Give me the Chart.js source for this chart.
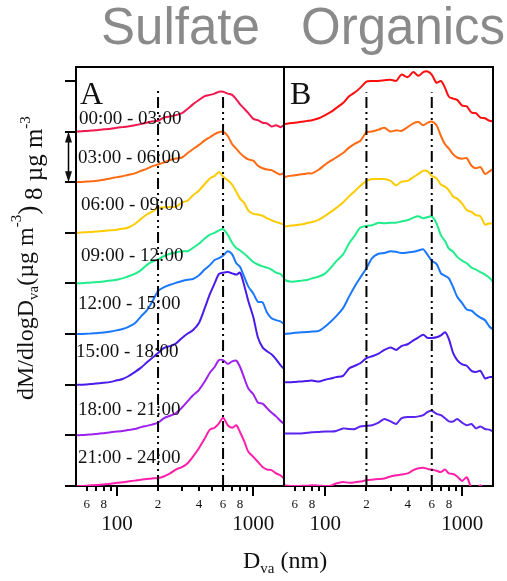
<!DOCTYPE html>
<html>
<head>
<meta charset="utf-8">
<script src="https://cdn.jsdelivr.net/npm/chart.js@4.4.0/dist/chart.umd.min.js"></script>
<style>
  html, body { margin: 0; padding: 0; background: #fff; }
  #quadro { position: relative; width: 507px; height: 581px; }
  #quadro canvas { position: absolute; left: 0; top: 0; }
</style>
</head>
<body>
<div id="quadro">
  <canvas id="graficoSulfato" width="507" height="581"></canvas>
  <canvas id="graficoOrganicos" width="507" height="581"></canvas>
</div>
<script>
// diâmetros (nm) onde as curvas foram lidas
const diametros = [50, 55, 60, 65, 70, 75, 80, 90, 100, 110, 120, 135, 150, 165, 180, 200, 220, 245, 270, 300, 330, 360, 400, 440, 480, 520, 560, 600, 650, 700, 750, 800, 860, 920, 1000, 1080, 1170, 1260, 1360, 1470, 1580, 1680];

const periodos = ['00:00 - 03:00', '03:00 - 06:00', '06:00 - 09:00', '09:00 - 12:00',
                  '12:00 - 15:00', '15:00 - 18:00', '18:00 - 21:00', '21:00 - 24:00'];

// marcas do eixo x (log) e seus rótulos
const marcasX = [60, 70, 80, 90, 100, 200, 300, 400, 500, 600, 700, 800, 900, 1000];
const rotulosX = ['6', '', '8', '', '100', '2', '', '4', '', '6', '', '8', '', '1000'];
const marcasMaiores = [100, 1000];
const marcasY = [0, 8, 16, 24, 32, 40, 48, 56, 64];

const deslocamento = 8;          // µg m-3 entre uma curva e a seguinte
const linhasReferencia = [200, 600];

// Sulfato - dM/dlogDva (µg m-3), sem deslocamento
const sulfato0003 = [0, 0.05, 0.1, 0.15, 0.2, 0.3, 0.35, 0.45, 0.6, 0.7, 0.8, 1.0, 1.2, 1.4, 1.6, 1.7, 2.2, 2.4, 2.6, 2.9, 3.6, 4.3, 5.0, 5.6, 5.8, 6.0, 6.3, 6.3, 6.0, 5.8, 5.1, 4.3, 3.6, 2.9, 2.0, 1.8, 1.4, 1.3, 0.8, 1.0, 0.7, 1.0];
const sulfato0306 = [0, 0.05, 0.1, 0.15, 0.2, 0.3, 0.4, 0.6, 0.8, 0.95, 1.15, 1.4, 1.8, 2.1, 2.5, 2.8, 3.1, 3.5, 3.75, 3.9, 4.6, 5.2, 5.9, 6.6, 7.1, 7.6, 7.9, 8.0, 7.3, 6.0, 5.3, 4.6, 4.0, 3.6, 3.4, 2.6, 2.2, 2.0, 1.9, 1.5, 1.2, 1.5];
const sulfato0609 = [0, 0.05, 0.1, 0.15, 0.2, 0.25, 0.3, 0.4, 0.5, 0.65, 0.8, 1.4, 2.2, 2.9, 3.3, 3.9, 4.0, 4.1, 4.1, 4.8, 5.1, 5.9, 6.7, 7.7, 8.6, 9.0, 9.6, 8.9, 8.3, 7.6, 6.5, 5.4, 4.7, 3.5, 3.0, 2.9, 2.7, 2.3, 2.0, 1.7, 1.5, 1.3];
const sulfato0912 = [0, 0.05, 0.1, 0.15, 0.2, 0.25, 0.3, 0.45, 0.6, 0.8, 1.1, 1.5, 2.1, 2.9, 3.4, 3.8, 4.3, 4.7, 4.9, 5.1, 5.1, 5.6, 6.3, 7.1, 7.7, 8.0, 8.4, 8.6, 7.7, 6.4, 5.6, 5.2, 4.7, 4.1, 3.4, 3.0, 2.7, 2.5, 2.2, 1.7, 1.5, 0.9];
const sulfato1215 = [0, 0, 0.05, 0.1, 0.15, 0.2, 0.25, 0.4, 0.6, 0.8, 1.1, 1.7, 2.8, 3.7, 5.0, 6.8, 7.4, 7.8, 8.1, 8.4, 8.6, 8.7, 9.3, 10.2, 10.9, 11.7, 12.0, 12.4, 13.1, 12.6, 11.2, 10.6, 9.0, 7.5, 6.4, 5.1, 5.0, 3.4, 2.5, 2.2, 2.0, 1.6];
const sulfato1518 = [0, 0, 0.05, 0.1, 0.2, 0.25, 0.3, 0.45, 0.7, 0.9, 1.3, 2.0, 2.7, 3.5, 4.2, 5.0, 5.8, 6.1, 6.5, 7.4, 8.1, 8.6, 9.8, 12.1, 14.3, 16.0, 17.5, 17.7, 17.8, 17.6, 17.4, 17.7, 15.6, 13.2, 10.7, 7.5, 5.9, 5.3, 4.8, 4.0, 3.1, 2.5];
const sulfato1821 = [0, 0.05, 0.1, 0.15, 0.2, 0.3, 0.35, 0.5, 0.6, 0.7, 0.85, 1.0, 1.3, 1.5, 1.7, 2.0, 2.7, 3.1, 3.5, 4.4, 5.4, 6.3, 7.2, 8.5, 9.9, 10.8, 11.9, 11.9, 11.3, 11.7, 11.8, 10.8, 9.0, 7.4, 6.5, 5.2, 5.0, 4.3, 3.6, 3.0, 2.3, 1.8];
const sulfato2124 = [0, 0, 0.05, 0.1, 0.15, 0.2, 0.25, 0.35, 0.5, 0.6, 0.7, 0.85, 1.0, 1.1, 1.2, 1.25, 1.5, 2.0, 2.6, 3.0, 3.6, 4.6, 6.0, 7.5, 8.9, 9.2, 9.9, 10.8, 9.6, 9.2, 9.6, 8.5, 7.0, 5.4, 4.6, 3.8, 3.0, 2.6, 2.5, 2.0, 1.7, 1.2];

// Orgânicos - dM/dlogDva (µg m-3), sem deslocamento
const organicos0003 = [1.2, 1.3, 1.4, 1.5, 1.6, 1.7, 1.8, 2.1, 2.6, 3.1, 3.7, 4.5, 5.6, 6.2, 6.9, 7.9, 8.0, 8.0, 8.1, 8.2, 8.0, 9.0, 8.6, 9.4, 8.8, 9.4, 9.5, 9.0, 7.7, 8.0, 6.9, 5.5, 5.2, 5.0, 4.1, 4.0, 3.0, 2.9, 2.2, 2.1, 1.7, 1.6];
const organicos0306 = [0.8, 1.0, 1.1, 1.2, 1.3, 1.4, 1.4, 2.0, 2.8, 3.4, 3.9, 4.6, 5.5, 6.1, 6.5, 7.9, 8.0, 8.3, 8.6, 8.0, 8.2, 8.1, 8.7, 9.3, 9.5, 9.0, 9.4, 9.6, 9.0, 7.3, 6.0, 5.3, 4.4, 3.9, 3.7, 3.8, 2.6, 2.2, 2.4, 1.3, 1.7, 2.1];
const organicos0609 = [1.0, 1.1, 1.2, 1.3, 1.4, 1.6, 1.7, 2.1, 2.7, 3.3, 3.9, 4.8, 5.8, 6.6, 7.4, 8.2, 8.5, 8.5, 8.5, 8.2, 7.5, 8.1, 8.2, 8.8, 9.3, 9.8, 9.7, 9.0, 8.6, 7.6, 7.3, 6.7, 5.7, 5.4, 4.6, 3.6, 3.3, 2.8, 2.6, 1.3, 1.5, 1.4];
const organicos0912 = [0.6, 0.3, 0.3, 0.4, 0.5, 0.6, 0.8, 1.1, 1.6, 2.5, 3.5, 4.6, 6.4, 7.6, 8.8, 9.1, 9.2, 9.6, 9.5, 9.6, 9.6, 9.8, 10.0, 10.4, 10.6, 10.3, 10.5, 10.6, 9.5, 7.6, 6.7, 5.5, 5.0, 4.2, 3.6, 3.2, 2.5, 2.2, 1.8, 1.4, 0.9, 0.3];
const organicos1215 = [0, 0.1, 0.2, 0.25, 0.3, 0.35, 0.4, 0.5, 1.2, 2.0, 2.8, 4.1, 6.0, 7.6, 8.9, 10.4, 12.0, 12.7, 12.8, 13.1, 13.0, 12.8, 12.9, 13.0, 13.2, 13.4, 12.5, 11.6, 11.1, 9.6, 9.2, 8.8, 7.4, 5.9, 4.9, 3.9, 3.7, 3.1, 2.6, 2.2, 1.2, 0.7];
const organicos1518 = [0.4, 0.4, 0.45, 0.5, 0.55, 0.6, 0.65, 0.5, 0.8, 1.0, 1.2, 1.4, 2.6, 3.0, 3.4, 4.2, 4.5, 4.9, 5.5, 5.9, 5.5, 6.1, 6.4, 7.0, 7.5, 7.9, 7.4, 7.4, 7.5, 7.8, 8.3, 7.2, 5.0, 3.9, 3.2, 3.0, 2.2, 2.0, 2.2, 1.0, 1.2, 1.2];
const organicos1821 = [0.3, 0.3, 0.3, 0.3, 0.35, 0.4, 0.5, 0.55, 0.6, 0.6, 0.7, 1.1, 1.0, 1.0, 1.4, 1.5, 1.6, 2.0, 2.6, 2.2, 1.8, 2.7, 2.9, 2.9, 3.0, 3.2, 3.7, 3.9, 3.4, 3.2, 2.7, 2.2, 2.2, 2.6, 2.0, 1.6, 1.8, 1.1, 1.4, 1.0, 0.9, 0.6];
const organicos2124 = [0.1, 0, 0, 0, 0.05, 0.05, 0.1, 0.05, 0, 0.05, 0.4, 0.65, 0.5, 0.6, 0.7, 0.9, 1.0, 1.1, 1.2, 1.5, 1.7, 1.8, 2.0, 2.5, 2.8, 2.9, 2.7, 2.6, 2.4, 2.2, 2.6, 2.0, 1.9, 1.5, 0.8, 1.4, -0.3, -0.5, 0.1, -0.6, -0.3, 0];

const seriesSulfato = [sulfato0003, sulfato0306, sulfato0609, sulfato0912, sulfato1215, sulfato1518, sulfato1821, sulfato2124];
const seriesOrganicos = [organicos0003, organicos0306, organicos0609, organicos0912, organicos1215, organicos1518, organicos1821, organicos2124];

const coresSulfato = ['#F2184E', '#FF6A12', '#FCCB00', '#20EC8A', '#1A78FF', '#4A1BEA', '#9E22EE', '#FF1FAA'];
const coresOrganicos = ['#FF0D0D', '#FF6A12', '#FCCB00', '#20EC8A', '#1A78FF', '#4A1BEA', '#5A25EE', '#FF1FAA'];

const fonteSerif = '"Liberation Serif", "Times New Roman", serif';

function montarDatasets(series, cores, toposReferencia) {
    let datasets = [];

    // linhas traço-ponto em 200 e 600 nm (ficam por cima das curvas)
    linhasReferencia.forEach(function (d, i) {
        datasets.push({
            label: 'ref' + d,
            data: [{ x: d, y: 0 }, { x: d, y: toposReferencia[i] }],
            borderColor: '#000',
            borderWidth: 2,
            borderDash: [11, 4, 2, 4, 2, 4],
            pointRadius: 0,
            fill: false
        });
    });

    for (let k = 0; k < series.length; k++) {
        const base = (series.length - 1 - k) * deslocamento;
        datasets.push({
            label: periodos[k],
            data: diametros.map((d, i) => ({ x: d, y: series[k][i] + base })),
            borderColor: cores[k],
            borderWidth: 2,
            pointRadius: 0,
            tension: 0.25,
            fill: false
        });
    }
    return datasets;
}

function criarOpcoes(padding, larguraY) {
    return {
        responsive: false,
        animation: false,
        events: [],
        layout: { padding: padding },
        plugins: { legend: { display: false }, tooltip: { enabled: false } },
        scales: {
            x: {
                type: 'logarithmic',
                min: 50,
                max: 1680,
                afterFit: function (eixo) { eixo.height = 95; },
                afterBuildTicks: function (eixo) {
                    eixo.ticks = marcasX.map(v => ({ value: v, major: marcasMaiores.includes(v) }));
                },
                ticks: {
                    autoSkip: false,
                    maxRotation: 0,
                    minRotation: 0,
                    padding: 6,
                    color: '#111',
                    font: function (context) {
                        if (context.tick && marcasMaiores.includes(context.tick.value)) {
                            return { family: fonteSerif, size: 21, lineHeight: 0.86 };
                        }
                        return { family: fonteSerif, size: 13 };
                    },
                    callback: function (valor) {
                        const i = marcasX.indexOf(valor);
                        if (i < 0) return '';
                        if (marcasMaiores.includes(valor)) return ['', rotulosX[i]];
                        return rotulosX[i];
                    }
                },
                grid: { drawOnChartArea: false, drawTicks: true, tickLength: 5, color: '#000', lineWidth: 2 },
                border: { display: true, color: '#000', width: 2 }
            },
            y: {
                display: larguraY > 0,
                min: 0,
                max: 66.2,
                afterFit: function (eixo) { eixo.width = larguraY; },
                afterBuildTicks: function (eixo) {
                    eixo.ticks = marcasY.map(v => ({ value: v }));
                },
                ticks: { display: false },
                grid: { drawOnChartArea: false, drawTicks: true, tickLength: 11, color: '#000', lineWidth: 2 },
                border: { display: true, color: '#000', width: 2 }
            }
        }
    };
}

// escreve um texto com partes em subscrito/sobrescrito, opcionalmente girado
function textoComposto(ctx, partes, x, y, angulo) {
    ctx.save();
    ctx.translate(x, y);
    ctx.rotate(angulo);
    ctx.textAlign = 'left';
    ctx.textBaseline = 'alphabetic';
    let cursor = 0;
    partes.forEach(function (p) {
        ctx.font = p.tamanho + 'px ' + fonteSerif;
        ctx.fillText(p.texto, cursor, p.dy || 0);
        cursor += ctx.measureText(p.texto).width;
    });
    ctx.restore();
}

function molduraEMarcas(chart) {
    const ctx = chart.ctx;
    const area = chart.chartArea;
    const eixoX = chart.scales.x;
    ctx.save();
    ctx.strokeStyle = '#000';
    ctx.lineWidth = 2;
    ctx.beginPath();
    ctx.moveTo(area.left, area.bottom);
    ctx.lineTo(area.left, area.top);
    ctx.lineTo(area.right, area.top);
    ctx.lineTo(area.right, area.bottom);
    ctx.stroke();
    // marcas maiores (100, 1000) mais compridas
    marcasMaiores.forEach(function (v) {
        const px = Math.round(eixoX.getPixelForValue(v));
        ctx.beginPath();
        ctx.moveTo(px, area.bottom);
        ctx.lineTo(px, area.bottom + 10);
        ctx.stroke();
    });
    ctx.restore();
}

// posições (px) dos rótulos de horário no painel A
const posRotulos = [[79, 124], [78, 163], [81, 210], [81, 261], [78, 309], [76, 357], [78, 415], [78, 463]];

const decoracaoSulfato = {
    id: 'decoracaoSulfato',
    afterDraw: function (chart) {
        const ctx = chart.ctx;
        const eixoY = chart.scales.y;
        molduraEMarcas(chart);

        ctx.save();
        ctx.fillStyle = '#111';
        ctx.textBaseline = 'alphabetic';
        ctx.textAlign = 'left';

        // rótulos dos horários
        ctx.font = '19px ' + fonteSerif;
        periodos.forEach(function (p, i) {
            ctx.fillText(p, posRotulos[i][0], posRotulos[i][1]);
        });

        ctx.font = '32px ' + fonteSerif;
        ctx.fillText('A', 80, 104);

        // barra de escala de 8 µg m-3
        const yTopo = eixoY.getPixelForValue(7 * deslocamento);
        const yBase = eixoY.getPixelForValue(6 * deslocamento);
        const xb = 68.5;
        ctx.strokeStyle = '#000';
        ctx.lineWidth = 1.5;
        ctx.beginPath();
        ctx.moveTo(xb, yTopo + 6);
        ctx.lineTo(xb, yBase - 6);
        ctx.stroke();
        ctx.beginPath();
        ctx.moveTo(xb, yTopo);
        ctx.lineTo(xb - 3.5, yTopo + 11);
        ctx.lineTo(xb + 3.5, yTopo + 11);
        ctx.closePath();
        ctx.moveTo(xb, yBase);
        ctx.lineTo(xb - 3.5, yBase - 11);
        ctx.lineTo(xb + 3.5, yBase - 11);
        ctx.closePath();
        ctx.fill();

        textoComposto(ctx, [
            { texto: '8 \u00b5g m', tamanho: 25 },
            { texto: '-3', tamanho: 15, dy: -12 }
        ], 42, 200, -Math.PI / 2);

        textoComposto(ctx, [
            { texto: 'dM/dlogD', tamanho: 24 },
            { texto: 'va', tamanho: 15, dy: 5 },
            { texto: '(\u00b5g m', tamanho: 24 },
            { texto: '-3', tamanho: 15, dy: -12 },
            { texto: ')', tamanho: 28, dy: 4 }
        ], 33, 400, -Math.PI / 2);

        textoComposto(ctx, [
            { texto: 'D', tamanho: 24 },
            { texto: 'va', tamanho: 15, dy: 5 },
            { texto: ' (nm)', tamanho: 24 }
        ], 243, 568, 0);

        // títulos dos painéis
        ctx.fillStyle = '#8a8a8a';
        ctx.font = '51px "Liberation Sans", Arial, sans-serif';
        ctx.fillText('Sulfate', 101, 44);
        ctx.fillText('Organics', 301, 44);
        ctx.restore();
    }
};

const decoracaoOrganicos = {
    id: 'decoracaoOrganicos',
    afterDraw: function (chart) {
        const ctx = chart.ctx;
        molduraEMarcas(chart);
        ctx.save();
        ctx.fillStyle = '#111';
        ctx.font = '32px ' + fonteSerif;
        ctx.fillText('B', 290, 104);
        ctx.restore();
    }
};

const graficoSulfato = new Chart(document.getElementById('graficoSulfato'), {
    type: 'line',
    data: { datasets: montarDatasets(seriesSulfato, coresSulfato, [62.6, 61.8]) },
    options: criarOpcoes({ left: 0, right: 223, top: 67, bottom: 0 }, 76),
    plugins: [decoracaoSulfato]
});

const graficoOrganicos = new Chart(document.getElementById('graficoOrganicos'), {
    type: 'line',
    data: { datasets: montarDatasets(seriesOrganicos, coresOrganicos, [62.2, 62.2]) },
    options: criarOpcoes({ left: 284, right: 14, top: 67, bottom: 0 }, 0),
    plugins: [decoracaoOrganicos]
});
</script>
</body>
</html>
